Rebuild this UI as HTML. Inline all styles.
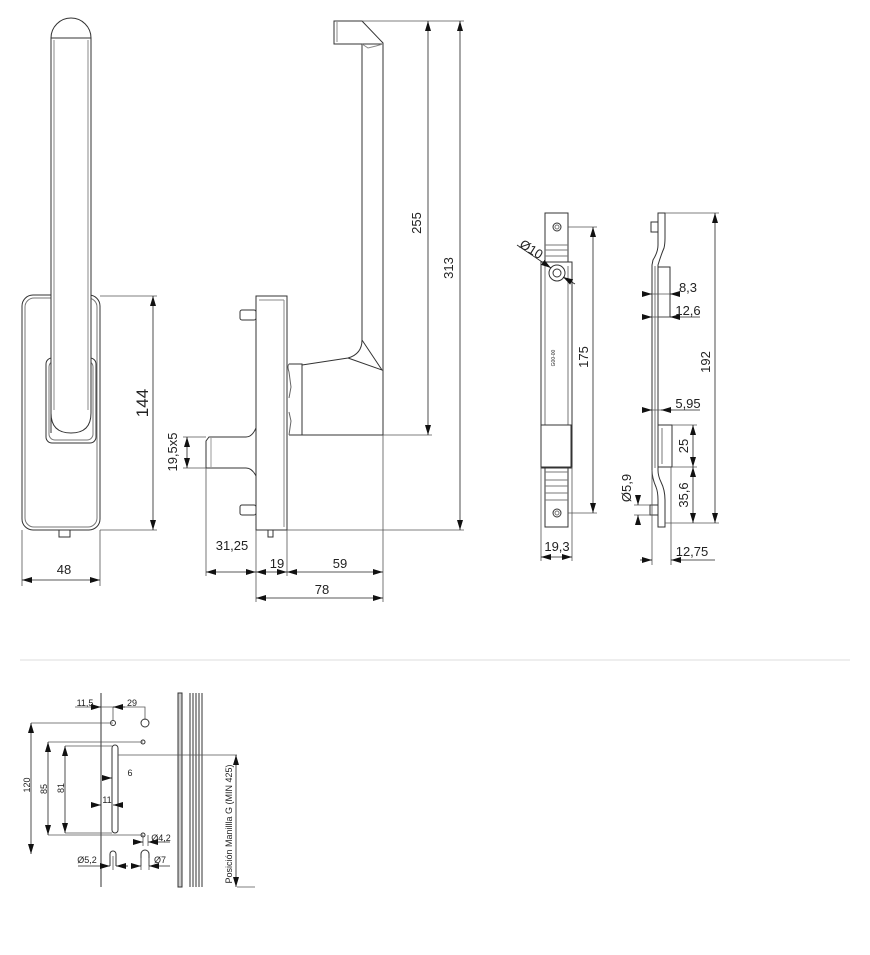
<!DOCTYPE html>
<html><head><meta charset="utf-8"><style>
html,body{margin:0;padding:0;background:#fff}
svg{display:block}
text{font-family:"Liberation Sans",sans-serif;fill:#222}
</style></head><body>
<svg width="870" height="955" viewBox="0 0 870 955" xmlns="http://www.w3.org/2000/svg">
<defs>
<marker id="a" viewBox="0 0 10 6" refX="10" refY="3" markerWidth="10" markerHeight="6" orient="auto-start-reverse" markerUnits="userSpaceOnUse"><path d="M0,0 L10,3 L0,6 z" fill="#111"/></marker>
</defs>
<g fill="none" stroke="#333" stroke-width="1">
<rect x="22" y="295" width="78" height="235" rx="11"/>
<rect x="25" y="298" width="72" height="229" rx="9" stroke="#777"/>
<rect x="46" y="358" width="50" height="85" rx="6" fill="#fff"/>
<rect x="49" y="361" width="44" height="79" rx="6" stroke="#777"/>
<path d="M51,433 L51,38 A20,20 0 0 1 91,38 L91,413 Q91,433 71,433 Q51,433 51,413" fill="#fff"/>
<line x1="51" y1="38" x2="91" y2="38"/>
<line x1="54" y1="40" x2="54" y2="410" stroke="#888"/>
<line x1="88" y1="40" x2="88" y2="410" stroke="#888"/>
<rect x="59" y="530" width="11" height="7"/>
<rect x="256" y="296" width="31" height="234"/>
<line x1="259" y1="300" x2="284" y2="300" stroke="#888"/>
<line x1="284" y1="300" x2="284" y2="527" stroke="#888"/>
<rect x="240" y="310" width="16" height="10" rx="2"/>
<rect x="240" y="505" width="16" height="10" rx="2"/>
<path d="M256,428 Q252,437 246,437 L209,437 L206,441 L206,468 L246,468 Q252,468 256,476"/>
<line x1="211" y1="437" x2="211" y2="468" stroke="#999"/>
<rect x="268" y="530" width="5" height="7"/>
<path d="M289,364 L302,364 L302,435 L289,435" />
<path d="M289,364 Q287,366 289,372 L291,387 L289,398 M289,412 L291,421 L289,435" stroke="#666"/>
<path d="M302,365 L348,358 Q362,354 362,340 L362,44 M383,43 L383,435 L302,435"/>
<path d="M362,340 L382,370 L348,358" />
<path d="M334,21 L362,21 L383,43 L383,44 L334,44 Z"/>
<line x1="337" y1="22" x2="337" y2="42" stroke="#888"/>
<path d="M362,44 L368,48 L376,46 L383,44" stroke="#888"/>
<rect x="545" y="213" width="23" height="314"/>
<rect x="541" y="262" width="31" height="206" fill="#fff"/>
<line x1="545" y1="266" x2="545" y2="425" stroke="#777"/>
<line x1="568" y1="266" x2="568" y2="425" stroke="#777"/>
<rect x="541" y="425" width="30" height="42"/>
<path d="M545,245 H568 M545,250 H568 M545,256 H568 M545,472 H568 M545,480 H568 M545,486 H568 M545,493 H568 M545,500 H568" stroke="#777"/>
<circle cx="557" cy="227" r="4"/><circle cx="557" cy="227" r="2" stroke="#777"/>
<circle cx="557" cy="513" r="4"/><circle cx="557" cy="513" r="2" stroke="#777"/>
<circle cx="557" cy="273" r="8"/><circle cx="557" cy="273" r="4"/>
<path d="M658,213 L658,245 Q658,252 653,260 L652,265 L652,470 Q652,478 656,487 Q658,492 658,500 L658,527 L665,527 L665,500 Q665,490 661,482 Q658,476 658,470 L658,265 Q661,255 664,248 Q665,244 665,238 L665,213 Z"/>
<line x1="655" y1="266" x2="655" y2="468" stroke="#777"/>
<rect x="651" y="222" width="7" height="10"/>
<rect x="650" y="505" width="8" height="10"/>
<rect x="658" y="267" width="12" height="50"/>
<rect x="658" y="425" width="14" height="42"/>
<line x1="662" y1="428" x2="662" y2="464" stroke="#777"/>
<line x1="101" y1="693" x2="101" y2="887"/>
<rect x="178" y="693" width="4" height="194" fill="#ccc"/>
<line x1="190" y1="693" x2="190" y2="887"/>
<line x1="193" y1="693" x2="193" y2="887"/>
<line x1="196" y1="693" x2="196" y2="887"/>
<line x1="199" y1="693" x2="199" y2="887"/>
<line x1="202" y1="693" x2="202" y2="887"/>
<circle cx="113" cy="723" r="2.5"/><circle cx="145" cy="723" r="4"/>
<circle cx="143" cy="742" r="2"/><circle cx="143" cy="835" r="2"/>
<path d="M110,866 L110,854 A3,3 0 0 1 116,854 L116,866"/>
<path d="M141,866 L141,854 A4,4 0 0 1 149,854 L149,866"/>
<rect x="112" y="745" width="6" height="88" rx="3"/>
</g>
<g fill="none" stroke="#555" stroke-width="0.8">
<path d="M100,296 H157 M100,530 H157 M22,530 V586 M100,530 V586"/>
<path d="M362,21 H464 M383,435 H432 M287,530 H464 M183,437 H206 M183,468 H206 M206,468 V576 M256,530 V602 M287,530 V576 M383,435 V602"/>
<path d="M568,227 H597 M568,513 H597 M541,467 V561 M572,467 V561"/>
<path d="M665,213 H719 M665,523 H719 M672,425 H697 M672,467 H697 M645,294 H672 M645,317 H672 M645,410 H672 M634,505 H650 M634,515 H650 M652,470 V565 M671,467 V565"/>
<path d="M20,660 H850" stroke="#ddd" stroke-width="1"/>
<path d="M75,707 H113 V720 M113,707 H145 V720 M31,723 H113 M48,742 H143 M48,835 H143 M65,746 H112 M65,833 H112 M118,755 H237 M237,887 H255 M143,835 V846 M148,835 V846 M113,856 V870 M141,858 V870 M149,858 V870"/>
</g>
<g stroke="#222" stroke-width="0.8" fill="none" marker-start="url(#a)" marker-end="url(#a)">
<line x1="153" y1="296" x2="153" y2="530"/>
<line x1="22" y1="580" x2="100" y2="580"/>
<line x1="428" y1="21" x2="428" y2="435"/>
<line x1="460" y1="21" x2="460" y2="530"/>
<line x1="187" y1="437" x2="187" y2="468"/>
<line x1="206" y1="572" x2="256" y2="572"/>
<line x1="256" y1="572" x2="287" y2="572"/>
<line x1="287" y1="572" x2="383" y2="572"/>
<line x1="256" y1="598" x2="383" y2="598"/>
<line x1="593" y1="227" x2="593" y2="513"/>
<line x1="541" y1="557" x2="572" y2="557"/>
<line x1="715" y1="213" x2="715" y2="523"/>
<line x1="693" y1="425" x2="693" y2="467"/>
<line x1="693" y1="467" x2="693" y2="523"/>
<line x1="31" y1="723" x2="31" y2="854"/>
<line x1="48" y1="742" x2="48" y2="835"/>
<line x1="65" y1="746" x2="65" y2="833"/>
<line x1="236" y1="755" x2="236" y2="887"/>
</g>
<g stroke="#222" stroke-width="0.8" fill="none" marker-end="url(#a)">
<line x1="517" y1="245" x2="551" y2="268"/>
<line x1="575" y1="284" x2="563" y2="277"/>
<line x1="642" y1="294" x2="652" y2="294"/>
<line x1="680" y1="294" x2="670" y2="294"/>
<line x1="642" y1="317" x2="652" y2="317"/>
<line x1="700" y1="317" x2="670" y2="317"/>
<line x1="642" y1="410" x2="652" y2="410"/>
<line x1="700" y1="410" x2="661" y2="410"/>
<line x1="638" y1="495" x2="638" y2="505"/>
<line x1="638" y1="525" x2="638" y2="515"/>
<line x1="640" y1="560" x2="652" y2="560"/>
<line x1="715" y1="560" x2="671" y2="560"/>
<line x1="95" y1="707" x2="101" y2="707"/>
<line x1="125" y1="707" x2="113" y2="707"/>
<line x1="104" y1="778" x2="112" y2="778"/>
<line x1="95" y1="805" x2="101" y2="805"/>
<line x1="119" y1="805" x2="113" y2="805"/>
<line x1="137" y1="842" x2="143" y2="842"/>
<line x1="170" y1="842" x2="148" y2="842"/>
<line x1="78" y1="866" x2="110" y2="866"/>
<line x1="128" y1="866" x2="116" y2="866"/>
<line x1="135" y1="866" x2="141" y2="866"/>
<line x1="170" y1="866" x2="149" y2="866"/>
</g>
<g font-size="13">
<text x="148" y="403" font-size="17" text-anchor="middle" transform="rotate(-90 148 403)">144</text>
<text x="64" y="574" text-anchor="middle">48</text>
<text x="421" y="223" text-anchor="middle" transform="rotate(-90 421 223)">255</text>
<text x="453" y="268" text-anchor="middle" transform="rotate(-90 453 268)">313</text>
<text x="177" y="452" text-anchor="middle" transform="rotate(-90 177 452)">19,5x5</text>
<text x="232" y="550" text-anchor="middle">31,25</text>
<text x="277" y="568" text-anchor="middle">19</text>
<text x="340" y="568" text-anchor="middle">59</text>
<text x="322" y="594" text-anchor="middle">78</text>
<text x="529" y="253" text-anchor="middle" transform="rotate(32 529 253)">Ø10</text>
<text x="588" y="357" text-anchor="middle" transform="rotate(-90 588 357)">175</text>
<text x="557" y="551" text-anchor="middle">19,3</text>
<text x="688" y="292" text-anchor="middle">8,3</text>
<text x="688" y="315" text-anchor="middle">12,6</text>
<text x="688" y="408" text-anchor="middle">5,95</text>
<text x="688" y="446" text-anchor="middle" transform="rotate(-90 688 446)">25</text>
<text x="688" y="495" text-anchor="middle" transform="rotate(-90 688 495)">35,6</text>
<text x="710" y="362" text-anchor="middle" transform="rotate(-90 710 362)">192</text>
<text x="631" y="488" text-anchor="middle" transform="rotate(-90 631 488)">Ø5,9</text>
<text x="692" y="556" text-anchor="middle">12,75</text>
<text x="555" y="358" font-size="5" text-anchor="middle" transform="rotate(-90 555 358)">G00-00</text>
</g>
<g font-size="9">
<text x="85" y="706" text-anchor="middle">11,5</text>
<text x="132" y="706" text-anchor="middle">29</text>
<text x="30" y="785" text-anchor="middle" transform="rotate(-90 30 785)">120</text>
<text x="47" y="789" text-anchor="middle" transform="rotate(-90 47 789)">85</text>
<text x="64" y="788" text-anchor="middle" transform="rotate(-90 64 788)">81</text>
<text x="130" y="776" text-anchor="middle">6</text>
<text x="107" y="803" text-anchor="middle">11</text>
<text x="161" y="841" text-anchor="middle">Ø4,2</text>
<text x="87" y="863" text-anchor="middle">Ø5,2</text>
<text x="160" y="863" text-anchor="middle">Ø7</text>
<text x="232" y="824" text-anchor="middle" transform="rotate(-90 232 824)">Posición Manillla G (MIN 425)</text>
</g>
</svg>
</body></html>
